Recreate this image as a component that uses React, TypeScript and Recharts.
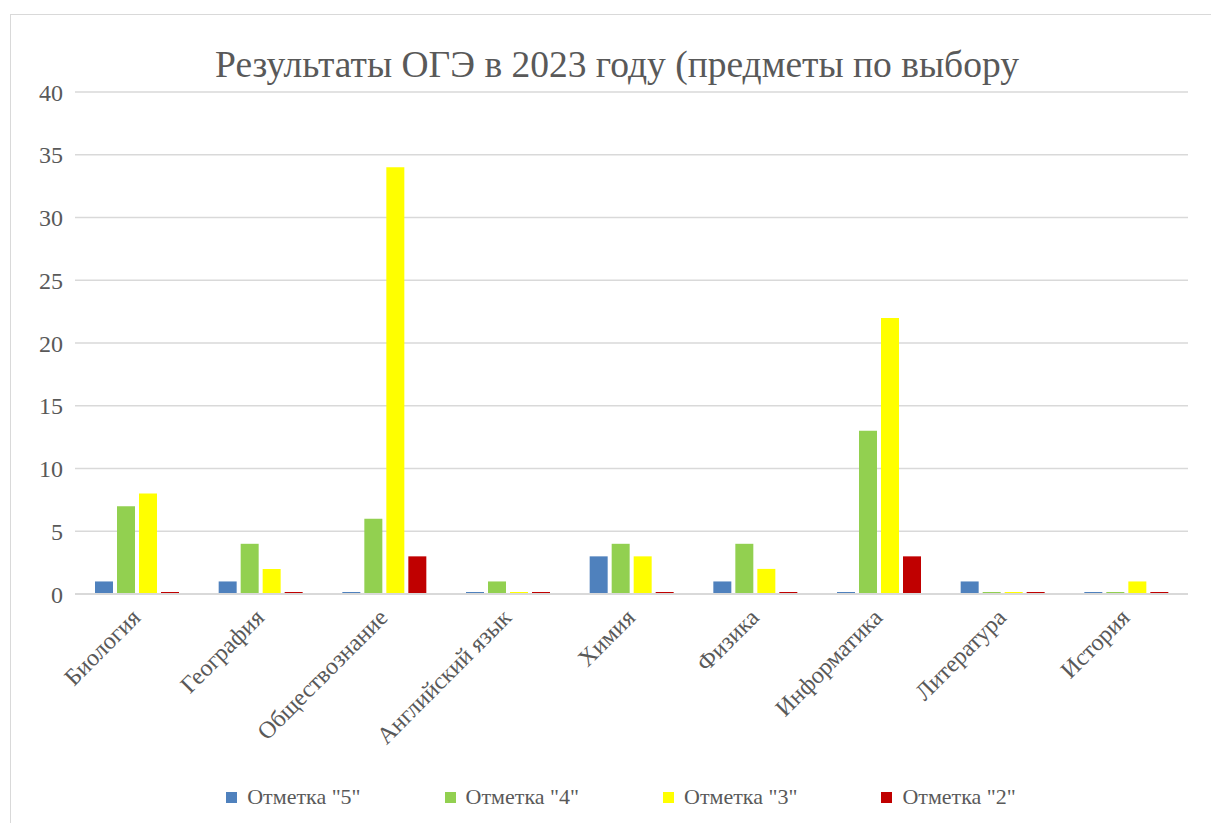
import React from 'react';
import { BarChart, Bar, XAxis, YAxis, CartesianGrid, Legend } from 'recharts';

const subjects = [
  'Биология',
  'География',
  'Обществознание',
  'Английский язык',
  'Химия',
  'Физика',
  'Информатика',
  'Литература',
  'История',
];
const grade5 = [1, 1, 0, 0, 3, 1, 0, 1, 0];
const grade4 = [7, 4, 6, 1, 4, 4, 13, 0, 0];
const grade3 = [8, 2, 34, 0, 3, 2, 22, 0, 1];
const grade2 = [0, 0, 3, 0, 0, 0, 3, 0, 0];
const yTicks = [0, 5, 10, 15, 20, 25, 30, 35, 40];

const series = [
  { key: 'g5', name: 'Отметка "5"', color: '#4F81BD' },
  { key: 'g4', name: 'Отметка "4"', color: '#92D050' },
  { key: 'g3', name: 'Отметка "3"', color: '#FFFF00' },
  { key: 'g2', name: 'Отметка "2"', color: '#C00000' },
];

const data = subjects.map((name, i) => ({
  name,
  g5: grade5[i],
  g4: grade4[i],
  g3: grade3[i],
  g2: grade2[i],
}));

const FONT = "'Liberation Serif', 'Times New Roman', serif";
const TEXT = '#595959';

// zero values still show as a thin line, like in Excel
const zeroLine = (value: any) => (value === 0 ? 2 : 0);

const XTick = (props: any) => {
  const { x, y, payload } = props;
  const ax = x + 5;
  const ay = y + 17;
  return (
    <text
      x={ax}
      y={ay}
      transform={`rotate(-45, ${ax}, ${ay})`}
      textAnchor="end"
      fontFamily={FONT}
      fontSize={24}
      fill={TEXT}
    >
      {payload.value}
    </text>
  );
};

const LegendContent = () => (
  <div
    style={{
      display: 'flex',
      justifyContent: 'center',
      gap: 84,
      fontFamily: FONT,
      fontSize: 22,
      lineHeight: '30px',
      color: TEXT,
    }}
  >
    {series.map((s) => (
      <div key={s.key} style={{ display: 'flex', alignItems: 'center' }}>
        <span style={{ width: 11, height: 11, background: s.color, marginRight: 10 }} />
        <span>{s.name}</span>
      </div>
    ))}
  </div>
);

export default function App() {
  return (
    <div
      style={{
        position: 'relative',
        width: 1220,
        height: 812,
        border: '1px solid #D9D9D9',
        marginLeft: 2,
        marginTop: 6,
        background: '#fff',
      }}
    >
      <div
        style={{
          position: 'absolute',
          top: 28,
          left: 0,
          width: 1212,
          textAlign: 'center',
          fontFamily: FONT,
          fontSize: 37.5,
          color: TEXT,
        }}
      >
        Результаты ОГЭ в 2023 году (предметы по выбору
      </div>
      <BarChart
        width={1220}
        height={810}
        data={data}
        margin={{ top: 77, right: 43, left: 0, bottom: 13 }}
        barSize={18}
        barGap={4}
      >
        <CartesianGrid vertical={false} stroke="#D9D9D9" strokeWidth={1.3} />
        <XAxis
          dataKey="name"
          interval={0}
          tick={<XTick />}
          tickLine={false}
          axisLine={{ stroke: '#D9D9D9', strokeWidth: 2 }}
          height={188}
        />
        <YAxis
          domain={[0, 40]}
          ticks={yTicks}
          width={64}
          tickMargin={6}
          tickLine={false}
          axisLine={false}
          tick={{ fontSize: 24, fill: TEXT, fontFamily: FONT }}
        />
        <Legend verticalAlign="bottom" height={30} width={1220} content={<LegendContent />} />
        {series.map((s) => (
          <Bar
            key={s.key}
            dataKey={s.key}
            name={s.name}
            fill={s.color}
            minPointSize={zeroLine}
            isAnimationActive={false}
          />
        ))}
      </BarChart>
    </div>
  );
}
